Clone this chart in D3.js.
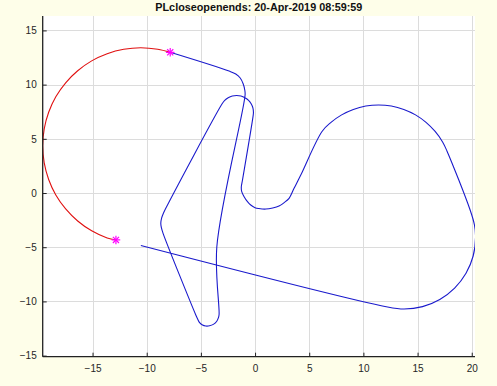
<!DOCTYPE html>
<html>
<head>
<meta charset="utf-8">
<script src="https://cdn.jsdelivr.net/npm/d3@7"></script>
<style>
  body { margin: 0; background: #fefee9; }
  svg { display: block; font-family: "Liberation Sans", Arial, sans-serif; }
</style>
</head>
<body>
<script>
// title of the figure
let titleText = 'PLcloseopenends: 20-Apr-2019 08:59:59';

// tick values
let xTicks = [-15, -10, -5, 0, 5, 10, 15, 20];
let yTicks = [-15, -10, -5, 0, 5, 10, 15];

// red closing arc
let arcPts = [
  [-7.83, 12.98], [-8.98, 13.26], [-10.55, 13.40], [-12.12, 13.26], [-13.65, 12.85],
  [-15.08, 12.19], [-16.37, 11.28], [-17.48, 10.17], [-18.39, 8.88], [-19.05, 7.45],
  [-19.46, 5.92], [-19.60, 4.35], [-19.46, 2.78], [-19.05, 1.25], [-18.39, -0.18],
  [-17.48, -1.47], [-16.37, -2.58], [-15.08, -3.49], [-13.65, -4.15], [-12.84, -4.33]
];

// blue open path
let pathPts = [
  [-7.83, 12.98], [-2.40, 11.25], [-1.78, 10.98], [-1.37, 10.61], [-1.09, 10.06],
  [-0.95, 9.50], [-0.92, 9.04],
  [-3.53, -4.98],
  [-3.32, -11.20], [-3.38, -11.50], [-3.55, -11.85], [-3.85, -12.12], [-4.20, -12.25],
  [-4.55, -12.27], [-4.85, -12.18], [-5.12, -11.95], [-5.30, -11.62], [-5.47, -11.25],
  [-8.49, -3.72], [-8.64, -3.22], [-8.70, -2.80], [-8.62, -2.30], [-8.45, -1.85], [-8.24, -1.41],
  [-3.04, 8.23], [-2.80, 8.55], [-2.48, 8.79], [-2.10, 8.95], [-1.70, 9.00], [-1.30, 8.95],
  [-0.93, 8.79], [-0.60, 8.55], [-0.36, 8.23], [-0.20, 7.85], [-0.15, 7.45], [-0.17, 7.18],
  [-1.16, 1.20], [-1.27, 0.55], [-1.23, 0.12], [-1.01, -0.34], [-0.70, -0.80], [-0.40, -1.11],
  [0.00, -1.35], [0.34, -1.43], [0.99, -1.48], [1.63, -1.38], [2.21, -1.20], [2.68, -0.89],
  [3.14, -0.49], [3.60, 0.43], [4.22, 1.66],
  [6.18, 5.68], [7.01, 6.52], [7.99, 7.21], [9.07, 7.71], [10.22, 8.02], [11.40, 8.12],
  [12.58, 8.02], [13.73, 7.71], [14.81, 7.21], [15.78, 6.52], [16.62, 5.68], [17.31, 4.71],
  [17.72, 3.86],
  [19.85, -1.57], [20.25, -2.95], [20.35, -4.10], [20.13, -5.81], [19.47, -7.40],
  [18.42, -8.77], [17.05, -9.82], [15.46, -10.48], [13.75, -10.70], [12.11, -10.49],
  [-10.54, -4.84]
];

// end markers
let stars = [[-7.83, 12.98], [-12.84, -4.33]];

let w = 497, h = 386;
let pLeft = 42.7, pRight = 475, pTop = 16, pBottom = 356.7;

let svg = d3.select('body').append('svg')
    .attr('width', w)
    .attr('height', h);

let x = d3.scaleLinear().domain([-19.6, 20.3]).range([pLeft, pRight]);
let y = d3.scaleLinear().domain([-15.1, 16.33]).range([pBottom, pTop]);

svg.append('rect')
    .attr('x', pLeft).attr('y', pTop)
    .attr('width', pRight - pLeft).attr('height', pBottom - pTop)
    .attr('fill', '#fff');

svg.append('clipPath').attr('id', 'clip')
  .append('rect')
    .attr('x', pLeft).attr('y', pTop)
    .attr('width', pRight - pLeft).attr('height', pBottom - pTop);

// grid
svg.append('g')
    .selectAll('line')
    .data(xTicks)
    .enter()
    .append('line')
    .attr('x1', d => Math.round(x(d)) + 0.5).attr('x2', d => Math.round(x(d)) + 0.5)
    .attr('y1', pTop).attr('y2', pBottom)
    .attr('stroke', '#dcdcdc');

svg.append('g')
    .selectAll('line')
    .data(yTicks)
    .enter()
    .append('line')
    .attr('y1', d => Math.round(y(d)) + 0.5).attr('y2', d => Math.round(y(d)) + 0.5)
    .attr('x1', pLeft).attr('x2', pRight)
    .attr('stroke', '#dcdcdc');

let line = d3.line()
    .x(d => x(d[0]))
    .y(d => y(d[1]))
    .curve(d3.curveCatmullRom.alpha(0.5));

let plot = svg.append('g').attr('clip-path', 'url(#clip)');

plot.append('path')
    .datum(pathPts)
    .attr('d', line)
    .attr('fill', 'none')
    .attr('stroke', '#1a1acc')
    .attr('stroke-width', 1.1);

plot.append('path')
    .datum(arcPts)
    .attr('d', line)
    .attr('fill', 'none')
    .attr('stroke', '#e01010')
    .attr('stroke-width', 1.1);

let starG = svg.append('g')
    .selectAll('g')
    .data(stars)
    .enter()
    .append('g')
    .attr('transform', d => `translate(${x(d[0])},${y(d[1])})`)
    .attr('stroke', '#ff00ff')
    .attr('stroke-width', 1.2)
    .attr('fill', 'none');

starG.append('path').attr('d', d3.symbol(d3.symbolPlus, 26));
starG.append('path').attr('d', d3.symbol(d3.symbolTimes, 26));

// axes
let xAxis = svg.append('g')
    .attr('transform', `translate(0,${pBottom})`)
    .call(d3.axisBottom(x).tickValues(xTicks).tickSizeInner(-4).tickSizeOuter(0).tickPadding(8));

let yAxis = svg.append('g')
    .attr('transform', `translate(${pLeft},0)`)
    .call(d3.axisLeft(y).tickValues(yTicks).tickSizeInner(-4).tickSizeOuter(0).tickPadding(6));

[xAxis, yAxis].forEach(a => {
  a.select('.domain').attr('stroke', '#222').attr('stroke-width', 1.3);
  a.selectAll('.tick line').attr('stroke', '#222');
  a.selectAll('.tick text')
      .attr('fill', '#262626')
      .style('font-size', '10px')
      .style('font-family', '"Liberation Sans", Arial, sans-serif');
});
xAxis.select('.domain').attr('d', `M${pLeft},0H${pRight}`);
yAxis.select('.domain').attr('d', `M0,${pBottom}V${pTop}`);

svg.append('text')
    .attr('x', (pLeft + pRight) / 2)
    .attr('y', 10.5)
    .attr('text-anchor', 'middle')
    .attr('font-weight', 'bold')
    .attr('font-size', '10.8px')
    .attr('fill', '#111')
    .text(titleText);
</script>
</body>
</html>
